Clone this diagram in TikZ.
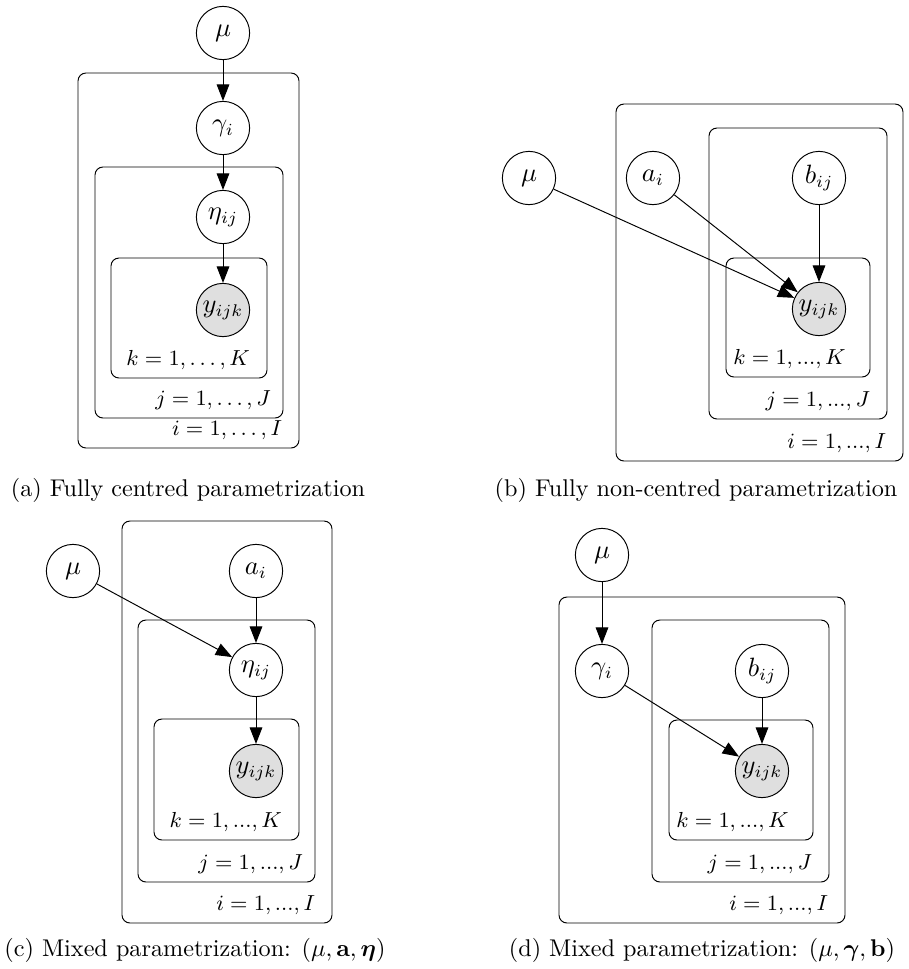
\documentclass[tikz,border=0pt]{standalone}
\usepackage{amsmath,amssymb}
\usepackage{tikz}
\usetikzlibrary{arrows.meta, positioning, fit}

\begin{document}
\begin{tikzpicture}[x=0.4132pt, y=-0.4132pt,
  latent/.style={circle, draw, fill=white, minimum size=22pt, inner sep=0.5pt,
                 font=\fontsize{10.5}{12}\selectfont},
  obs/.style={latent, fill=gray!25},
  plate/.style={draw, rounded corners=3.3pt, inner sep=0pt},
  platelab/.style={inner sep=0pt, font=\fontsize{9}{11}\selectfont},
  edge/.style={-{Triangle[length=6.8pt, width=5.2pt]}},
  subcap/.style={font=\normalsize}]
  \useasboundingbox (0,0) rectangle (909,969);

  % (a) fully centred
  \node[plate, fit={(78,73) (299,448)}]   (pai) {};
  \node[plate, fit={(95,167) (283,418)}]  (paj) {};
  \node[plate, fit={(111,258) (267,378)}] (pak) {};
  \node[latent] (mua)  at (223,33)  {$\mu$};
  \node[latent] (gama) at (223,128) {$\gamma_i$};
  \node[latent] (etaa) at (223,217) {$\eta_{ij}$};
  \node[obs]    (ya)   at (223,310) {$y_{ijk}$};
  \node[platelab, above left=3.5pt and 7pt of pai.south east] (lai) {$i = 1, \ldots, I$};
  \node[platelab, above left=3.5pt and 5pt of paj.south east] (laj) {$j = 1, \ldots, J$};
  \node[platelab, above left=3.5pt and 7pt of pak.south east] (lak) {$k = 1, \ldots, K$};
  \draw[edge] (mua) -- (gama);
  \draw[edge] (gama) -- (etaa);
  \draw[edge] (etaa) -- (ya);
  \node[subcap] (capa) at (188,490) {(a) Fully centred parametrization};

  % (b) fully non-centred
  \node[plate, fit={(616,104) (903,461)}] (pbi) {};
  \node[plate, fit={(709,128) (887,419)}] (pbj) {};
  \node[plate, fit={(726,258) (870,377)}] (pbk) {};
  \node[latent] (mub) at (529,178) {$\mu$};
  \node[latent] (ab)  at (653,178) {$a_i$};
  \node[latent] (bb)  at (819,178) {$b_{ij}$};
  \node[obs]    (yb)  at (819,309) {$y_{ijk}$};
  \node[platelab, above left=3.5pt and 7pt of pbi.south east] (lbi) {$i = 1, ..., I$};
  \node[platelab, above left=3.5pt and 7pt of pbj.south east] (lbj) {$j = 1, ..., J$};
  \node[platelab, above left=3.5pt and 10pt of pbk.south east] (lbk) {$k = 1, ..., K$};
  \draw[edge] (mub) -- (yb);
  \draw[edge] (ab) -- (yb);
  \draw[edge] (bb) -- (yb);
  \node[subcap] (capb) at (696,490) {(b) Fully non-centred parametrization};

  % (c) mixed: mu, a, eta
  \node[plate, fit={(122,521) (332,923)}] (pci) {};
  \node[plate, fit={(138,620) (315,882)}] (pcj) {};
  \node[plate, fit={(154,719) (299,840)}] (pck) {};
  \node[latent] (muc)  at (73,571)  {$\mu$};
  \node[latent] (ac)   at (256,571) {$a_i$};
  \node[latent] (etac) at (256,670) {$\eta_{ij}$};
  \node[obs]    (yc)   at (256,771) {$y_{ijk}$};
  \node[platelab, above left=3.5pt and 7pt of pci.south east] (lci) {$i = 1, ..., I$};
  \node[platelab, above left=3.5pt and 5pt of pcj.south east] (lcj) {$j = 1, ..., J$};
  \node[platelab, above left=3.5pt and 7pt of pck.south east] (lck) {$k = 1, ..., K$};
  \draw[edge] (muc) -- (etac);
  \draw[edge] (ac) -- (etac);
  \draw[edge] (etac) -- (yc);
  \node[subcap] (capc) at (195,950) {(c) Mixed parametrization: $(\mu, \mathbf{a}, \boldsymbol{\eta})$};

  % (d) mixed: mu, gamma, b
  \node[plate, fit={(559,597) (845,923)}] (pdi) {};
  \node[plate, fit={(652,620) (829,882)}] (pdj) {};
  \node[plate, fit={(669,720) (813,840)}] (pdk) {};
  \node[latent] (mud)  at (602,555) {$\mu$};
  \node[latent] (gamd) at (602,671) {$\gamma_i$};
  \node[latent] (bd)   at (762,671) {$b_{ij}$};
  \node[obs]    (yd)   at (762,771) {$y_{ijk}$};
  \node[platelab, above left=3.5pt and 7pt of pdi.south east] (ldi) {$i = 1, ..., I$};
  \node[platelab, above left=3.5pt and 7pt of pdj.south east] (ldj) {$j = 1, ..., J$};
  \node[platelab, above left=3.5pt and 10pt of pdk.south east] (ldk) {$k = 1, ..., K$};
  \draw[edge] (mud) -- (gamd);
  \draw[edge] (gamd) -- (yd);
  \draw[edge] (bd) -- (yd);
  \node[subcap] (capd) at (702,950) {(d) Mixed parametrization: $(\mu, \boldsymbol{\gamma}, \mathbf{b})$};
\end{tikzpicture}
\end{document}
